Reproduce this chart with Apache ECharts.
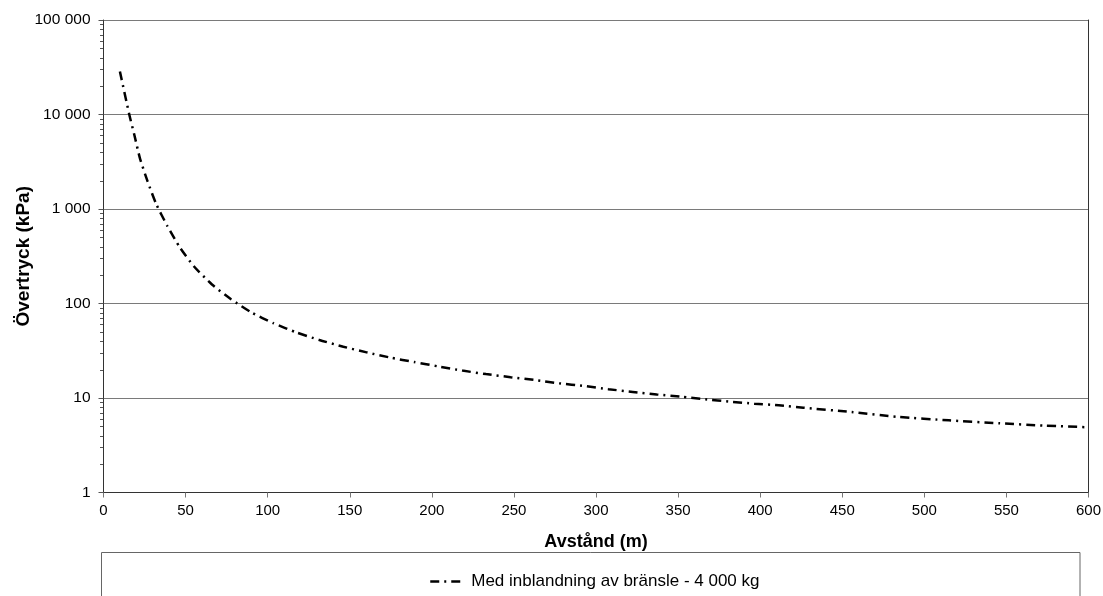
<!DOCTYPE html>
<html>
<head>
<meta charset="utf-8">
<script src="https://cdn.jsdelivr.net/npm/echarts@6/dist/echarts.min.js"></script>
<style>
html,body{margin:0;padding:0;background:#fff;}
#c{width:1103px;height:596px;}
</style>
</head>
<body>
<div id="c"></div>
<script>
// Data
const seriesName = 'Med inblandning av bränsle - 4 000 kg';
const xName = 'Avstånd (m)';
const yName = 'Övertryck (kPa)';
const distances = [10, 15.7, 18.8, 22.2, 26.9, 32.2, 38.9, 46.6, 55.3, 65.9, 77.7, 90.3, 103.4, 117.3, 131.5, 146.1, 160.3, 175, 189.3, 203.9, 218.6, 233, 248, 262.8, 277.6, 292.7, 307.5, 322.4, 337, 352, 366.6, 381.6, 396.4, 411.3, 426.3, 455.8, 484.2, 515, 545.7, 573.5, 600];
const pressures = [28500, 10000, 6070, 3440, 1950, 1120, 660, 390, 245, 160, 111, 80, 62, 49.6, 41.1, 34.9, 30.4, 26.7, 24.0, 21.6, 19.5, 17.9, 16.6, 15.5, 14.3, 13.4, 12.4, 11.6, 10.9, 10.3, 9.7, 9.14, 8.71, 8.37, 7.89, 7.1, 6.3, 5.8, 5.4, 5.1, 4.9];
const xTicks = [0, 50, 100, 150, 200, 250, 300, 350, 400, 450, 500, 550, 600];
const yTicks = [1, 10, 100, 1000, 10000, 100000];
const minorMultipliers = [2, 3, 4, 5, 6, 7, 8, 9];

const FONT = 'Liberation Sans, Arial, sans-serif';
const fmtSpace = v => String(Math.round(v)).replace(/\B(?=(\d{3})+(?!\d))/g, ' ');

const chart = echarts.init(document.getElementById('c'), null, {renderer: 'canvas'});
const points = distances.map((d, i) => [d, pressures[i]]);
const dashStyle = {color: '#000', width: 2.5, type: [9, 5, 2, 5], cap: 'butt'};

const option = {
  animation: false,
  backgroundColor: '#fff',
  grid: {left: 103.5, right: 14.5, top: 20, bottom: 103.5, containLabel: false, outerBoundsMode: 'none'},
  xAxis: {
    type: 'value',
    min: xTicks[0], max: xTicks[xTicks.length - 1], interval: 50,
    name: xName, nameLocation: 'middle', nameGap: 41, nameMoveOverlap: false,
    nameTextStyle: {fontFamily: FONT, fontSize: 18, fontWeight: 'bold', color: '#000'},
    axisLine: {show: true, lineStyle: {color: '#333', width: 1}},
    axisTick: {show: true, inside: false, length: 5, lineStyle: {color: '#777'}},
    axisLabel: {fontFamily: FONT, fontSize: 15, color: '#000', margin: 11},
    splitLine: {show: false}
  },
  yAxis: [{
    type: 'log', logBase: 10,
    min: yTicks[0], max: yTicks[yTicks.length - 1],
    name: yName, nameLocation: 'middle', nameGap: 70, nameRotate: 90, nameMoveOverlap: false,
    nameTextStyle: {fontFamily: FONT, fontSize: 19, fontWeight: 'bold', color: '#000'},
    axisLine: {show: true, lineStyle: {color: '#333', width: 1}},
    axisTick: {show: true, inside: false, length: 5, lineStyle: {color: '#555'}},
    axisLabel: {fontFamily: FONT, fontSize: 15.5, color: '#000', margin: 13, formatter: fmtSpace},
    splitLine: {show: true, lineStyle: {color: '#7a7a7a', width: 1}}
  }, {
    type: 'value', position: 'right', min: 0, max: 1,
    axisLine: {show: true, lineStyle: {color: '#333', width: 1}},
    axisTick: {show: false}, axisLabel: {show: false}, splitLine: {show: false}
  }],
  legend: {
    left: 424, top: 568,
    itemWidth: 34, itemHeight: 14, itemGap: 10,
    textStyle: {fontFamily: FONT, fontSize: 17, color: '#000', padding: [0, 0, 0, 2]},
    itemStyle: {opacity: 0},
    lineStyle: {color: '#000', width: 2.5, type: [9, 5, 2, 5]},
    data: [seriesName]
  },
  series: [{
    name: seriesName,
    type: 'line',
    data: points,
    smooth: 0.2,
    showSymbol: false,
    symbol: 'none',
    lineStyle: dashStyle,
    itemStyle: {color: '#000'}
  }]
};
chart.setOption(option);

// Minor ticks on the log axis (2..9 × 10^k), positioned with the axis scale
const graphics = [];
const axisX = chart.convertToPixel({xAxisIndex: 0}, xTicks[0]);
for (let k = 0; k < yTicks.length - 1; k++) {
  minorMultipliers.forEach(m => {
    const py = chart.convertToPixel({yAxisIndex: 0}, m * yTicks[k]);
    graphics.push({
      type: 'line', silent: true,
      shape: {x1: axisX - 3.5, y1: Math.round(py) + 0.5, x2: axisX, y2: Math.round(py) + 0.5},
      style: {stroke: '#555', lineWidth: 1}
    });
  });
}
// Legend frame
graphics.push({
  type: 'rect', silent: true, z: -1,
  shape: {x: 101.5, y: 552.5, width: 978.5, height: 80},
  style: {fill: 'none', stroke: '#666', lineWidth: 1}
});
chart.setOption({graphic: graphics});
</script>
</body>
</html>
